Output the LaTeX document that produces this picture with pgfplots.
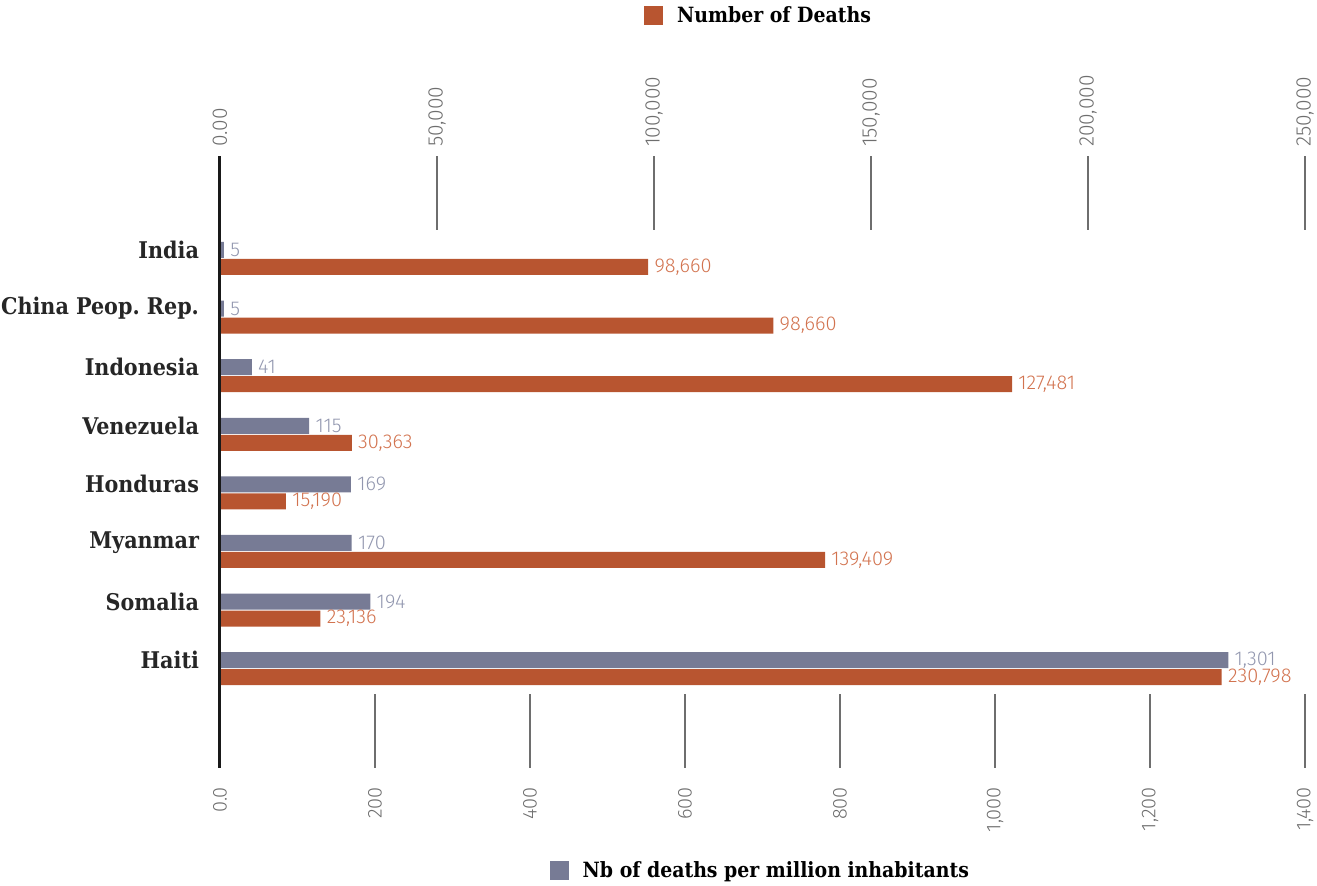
\documentclass[border=0pt]{standalone}
\usepackage{fontspec}
\setmainfont{DejaVu Serif Condensed}
\newfontfamily\lightsans{Fira Sans Light}
\usepackage{pgfplots}
\usepackage{pgfplotstable}
\pgfplotsset{compat=1.18}
\frenchspacing

\definecolor{barGray}{HTML}{777B95}
\definecolor{barOrange}{HTML}{B85530}
\definecolor{lblGray}{HTML}{9297AF}
\definecolor{lblOrange}{HTML}{D2734F}
\definecolor{tickGray}{HTML}{6E6E6E}

% per million inhabitants (bottom axis)
\pgfplotstableread{
y val label
0 5 5
1 5 5
2 41 41
3 115 115
4 169 169
5 170 170
6 194 194
7 1301 1,301
}\permillion

% number of deaths (top axis); bar lengths as drawn, labels as printed
\pgfplotstableread{
y val label
0.29 98660 98,660
1.29 127481 98,660
2.29 182500 127,481
3.29 30363 30,363
4.29 15190 15,190
5.29 139409 139,409
6.29 23136 23,136
7.29 230798 230,798
}\deaths

\pgfplotsset{
  base/.style={
    scale only axis, width=542.5pt, height=306pt,
    y dir=reverse, ymin=-1.604, ymax=8.84,
    axis line style={draw=none},
    xbar, bar width=8pt, bar shift=0pt,
    tick align=inside, major tick length=37pt,
    x tick style={tickGray, line width=0.7pt},
    scaled x ticks=false,
    point meta=explicit symbolic,
    nodes near coords,
    every node near coord/.append style={anchor=west, inner sep=0pt, xshift=3pt, font=\lightsans\fontsize{10}{11}\selectfont},
    legend style={draw=none, fill=none, font=\bfseries\fontsize{10.5}{12}\selectfont, legend cell align=left},
  }
}

\begin{document}
\begin{tikzpicture}
\useasboundingbox (-110pt,-59pt) rectangle (548.5pt,384pt);

\begin{axis}[base,
  xmin=0, xmax=1400,
  xtick={0,200,...,1400},
  xticklabels={0.0,200,400,600,800,{1,000},{1,200},{1,400}},
  xtick pos=left, xticklabel pos=left,
  xticklabel style={yshift=-6pt, rotate=90, anchor=east, text=tickGray, font=\lightsans\fontsize{10}{11}\selectfont},
  ytick={0,...,7},
  yticklabels={India,China Peop. Rep.,Indonesia,Venezuela,Honduras,Myanmar,Somalia,Haiti},
  ytick style={draw=none},
  yticklabel style={anchor=east, xshift=-7pt, font=\bfseries\fontsize{11.5}{13}\selectfont, text=black!85},
  every node near coord/.append style={text=lblGray},
  legend style={at={(0.298,-0.168)}, anchor=west},
]
\addplot[fill=barGray, draw=none,
  legend image code/.code={\fill[barGray] (0pt,-4.75pt) rectangle (9.5pt,4.75pt);}]
  table[x=val, y=y, meta=label] {\permillion};
\addlegendentry{\hspace{5pt}Nb of deaths per million inhabitants}
\end{axis}

\begin{axis}[base,
  xmin=0, xmax=250000,
  xtick={0,50000,...,250000},
  xticklabels={0.00,{50,000},{100,000},{150,000},{200,000},{250,000}},
  xtick pos=right, xticklabel pos=right,
  xticklabel style={yshift=1pt, rotate=90, anchor=west, text=tickGray, font=\lightsans\fontsize{10.5}{11}\selectfont},
  ytick=\empty,
  every node near coord/.append style={text=lblOrange},
  legend style={at={(0.385,1.229)}, anchor=west},
  extra description/.code={\draw[black!90, line width=1.5pt] (rel axis cs:0,0) -- (rel axis cs:0,1);},
]
\addplot[fill=barOrange, draw=none,
  legend image code/.code={\fill[barOrange] (0pt,-4.75pt) rectangle (9.5pt,4.75pt);}]
  table[x=val, y=y, meta=label] {\deaths};
\addlegendentry{\hspace{5pt}Number of Deaths}
\end{axis}
\end{tikzpicture}
\end{document}
